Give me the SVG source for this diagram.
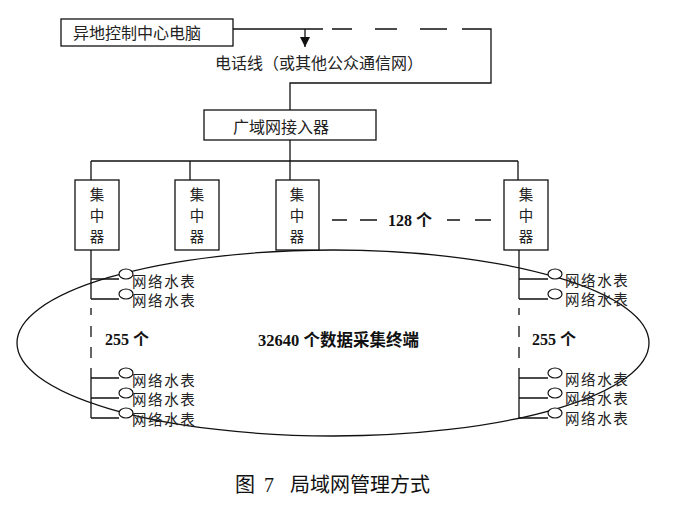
<svg xmlns="http://www.w3.org/2000/svg" width="686" height="514" viewBox="0 0 686 514">
<defs>
<style>
.box{fill:#fff;stroke:#111;stroke-width:1.3}
.ln{fill:none;stroke:#111;stroke-width:1.3}
.t{font-family:"Noto Sans CJK SC","Noto Sans",sans-serif;font-size:16px;fill:#222}
.c{font-family:"Noto Sans CJK SC","Noto Sans",sans-serif;font-size:14.5px;fill:#222}
.w{font-family:"Noto Sans CJK SC","Noto Sans",sans-serif;font-size:14.5px;letter-spacing:1.6px;fill:#222}
.b{font-family:"Liberation Serif","Noto Sans CJK SC",serif;font-size:16px;font-weight:bold;fill:#111}
.cap{font-family:"Liberation Serif","Noto Sans CJK SC",serif;font-size:20px;fill:#111}
.m{fill:#fff;stroke:#111;stroke-width:1.2}
</style>
<marker id="arr" viewBox="0 0 10 10" refX="10" refY="5" markerWidth="10" markerHeight="10" markerUnits="userSpaceOnUse" orient="auto">
<path d="M0,0 L10,5 L0,10 Z" fill="#111"/>
</marker>
</defs>
<rect width="686" height="514" fill="#fff"/>

<g id="lan-ellipse">
<ellipse cx="333" cy="343" rx="316" ry="93" class="ln"/>
</g>

<g id="connectors">
<path class="ln" d="M233,29 H323"/>
<path class="ln" d="M305,29 V47" marker-end="url(#arr)"/>
<path class="ln" d="M332,29 H352 M375,29 H397 M420,29 H447 M462,29 H491 V83 H290 V110"/>
<path class="ln" d="M290,140 V161 M91,161 H518 M91,161 V180 M190,161 V180 M290,161 V180 M518,161 V180"/>
<path class="ln" d="M332,220 H347 M360,220 H377 M447,220 H460 M475,220 H491"/>
<path class="ln" d="M91,250 V299 M91,279 H119 M91,299 H119"/>
<path class="ln" d="M91,308 V315 M91,326 V337 M91,347 V358"/>
<path class="ln" d="M91,368 V418 M91,378 H119 M91,398 H119 M91,418 H119"/>
<path class="ln" d="M519,250 V299 M519,279 H548 M519,299 H548"/>
<path class="ln" d="M519,308 V315 M519,326 V337 M519,347 V358"/>
<path class="ln" d="M519,368 V418 M519,378 H548 M519,398 H548 M519,418 H548"/>
</g>

<g id="remote-pc">
<rect class="box" x="61" y="19" width="172" height="27"/>
<text class="t" x="73" y="39">异地控制中心电脑</text>
</g>
<text class="t" x="215" y="69">电话线（或其他公众通信网）</text>

<g id="wan-access">
<rect class="box" x="204" y="110" width="172" height="30"/>
<text class="t" x="233" y="133">广域网接入器</text>
</g>

<g id="conc1">
<rect class="box" x="75" y="180" width="44" height="70"/>
<text class="c" x="97" y="200" text-anchor="middle">集</text>
<text class="c" x="97" y="221" text-anchor="middle">中</text>
<text class="c" x="97" y="242" text-anchor="middle">器</text>
</g>
<g id="conc2">
<rect class="box" x="175" y="180" width="44" height="70"/>
<text class="c" x="197" y="200" text-anchor="middle">集</text>
<text class="c" x="197" y="221" text-anchor="middle">中</text>
<text class="c" x="197" y="242" text-anchor="middle">器</text>
</g>
<g id="conc3">
<rect class="box" x="276" y="180" width="43" height="70"/>
<text class="c" x="297" y="200" text-anchor="middle">集</text>
<text class="c" x="297" y="221" text-anchor="middle">中</text>
<text class="c" x="297" y="242" text-anchor="middle">器</text>
</g>
<g id="conc4">
<rect class="box" x="504" y="180" width="44" height="70"/>
<text class="c" x="526" y="200" text-anchor="middle">集</text>
<text class="c" x="526" y="221" text-anchor="middle">中</text>
<text class="c" x="526" y="242" text-anchor="middle">器</text>
</g>
<text class="b" x="388" y="226">128 个</text>

<g id="meters-left">
<ellipse class="m" cx="126" cy="274" rx="7" ry="5"/>
<ellipse class="m" cx="126" cy="294" rx="7" ry="5"/>
<ellipse class="m" cx="126" cy="373" rx="7" ry="5"/>
<ellipse class="m" cx="126" cy="393" rx="7" ry="5"/>
<ellipse class="m" cx="126" cy="413" rx="7" ry="5"/>
<text class="w" x="132" y="287">网络水表</text>
<text class="w" x="132" y="306">网络水表</text>
<text class="w" x="132" y="386">网络水表</text>
<text class="w" x="132" y="405">网络水表</text>
<text class="w" x="132" y="425">网络水表</text>
</g>
<g id="meters-right">
<ellipse class="m" cx="555" cy="274" rx="7" ry="5"/>
<ellipse class="m" cx="555" cy="294" rx="7" ry="5"/>
<ellipse class="m" cx="555" cy="373" rx="7" ry="5"/>
<ellipse class="m" cx="555" cy="393" rx="7" ry="5"/>
<ellipse class="m" cx="555" cy="413" rx="7" ry="5"/>
<text class="w" x="565" y="286">网络水表</text>
<text class="w" x="565" y="305">网络水表</text>
<text class="w" x="565" y="385">网络水表</text>
<text class="w" x="565" y="404">网络水表</text>
<text class="w" x="565" y="424">网络水表</text>
</g>

<text class="b" x="105" y="345">255 个</text>
<text class="b" x="532" y="345">255 个</text>
<text class="b" x="258" y="346" style="font-size:16.5px">32640 个数据采集终端</text>

<text class="cap" x="235" y="492">图</text>
<text class="cap" x="264" y="492">7</text>
<text class="cap" x="290" y="492">局域网管理方式</text>
</svg>
